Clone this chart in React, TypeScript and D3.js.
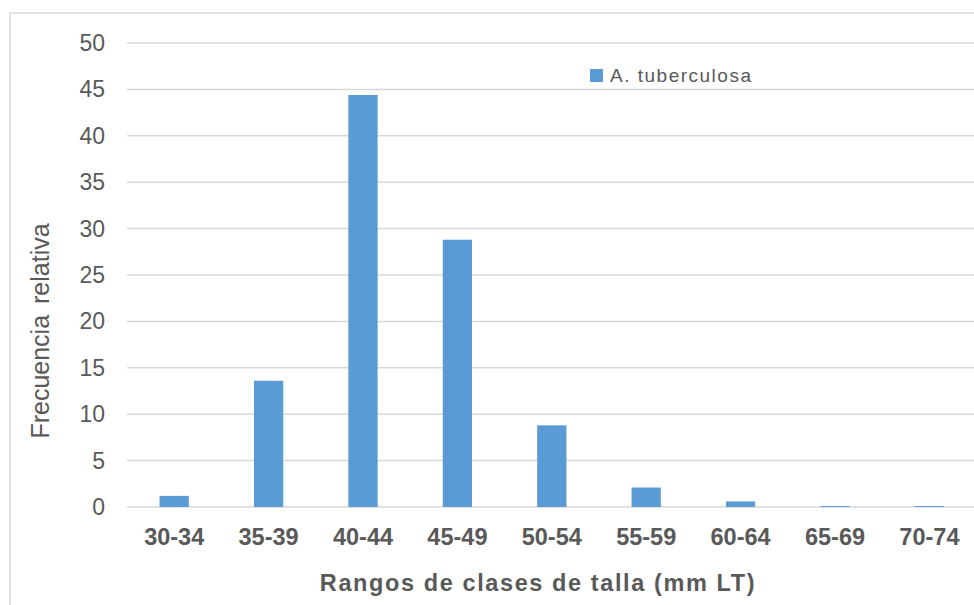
import { useRef, useEffect } from 'react'
import * as d3 from 'd3'

const WIDTH = 974
const HEIGHT = 605

const sizeClasses = ['30-34', '35-39', '40-44', '45-49', '50-54', '55-59', '60-64', '65-69', '70-74']
const frequencies = [1.2, 13.6, 44.4, 28.8, 8.8, 2.1, 0.6, 0.1, 0.1]
const yTicks = [0, 5, 10, 15, 20, 25, 30, 35, 40, 45, 50]
const seriesName = 'A. tuberculosa'

const BAR_COLOR = '#5b9bd5'
const GRID_COLOR = '#d9d9d9'
const TEXT_COLOR = '#595959'
const FONT = '"Liberation Sans", Arial, sans-serif'

export default function App() {
  const svgRef = useRef<SVGSVGElement>(null)

  useEffect(() => {
    if (!svgRef.current) return
    const svg = d3.select(svgRef.current)
    svg.selectAll('*').remove()

    const margin = { top: 43, left: 127, bottom: 98 }
    const plotRight = 976.6
    const plotBottom = HEIGHT - margin.bottom

    const x = d3
      .scaleBand<string>()
      .domain(sizeClasses)
      .range([margin.left, plotRight])
      .paddingInner(0.69)
      .paddingOuter(0.345)

    const y = d3.scaleLinear().domain([0, 50]).range([plotBottom, margin.top])

    // chart frame
    svg
      .append('rect')
      .attr('x', 10)
      .attr('y', 13)
      .attr('width', WIDTH + 20)
      .attr('height', HEIGHT + 20)
      .attr('fill', '#fff')
      .attr('stroke', GRID_COLOR)
      .attr('stroke-width', 1.5)

    // gridlines
    svg
      .append('g')
      .selectAll('line')
      .data(yTicks)
      .enter()
      .append('line')
      .attr('x1', margin.left)
      .attr('x2', WIDTH)
      .attr('y1', (d) => y(d))
      .attr('y2', (d) => y(d))
      .attr('stroke', GRID_COLOR)
      .attr('stroke-width', 1.5)

    // y tick labels
    svg
      .append('g')
      .selectAll('text')
      .data(yTicks)
      .enter()
      .append('text')
      .attr('x', 105)
      .attr('y', (d) => y(d) + 8)
      .attr('text-anchor', 'end')
      .attr('font-family', FONT)
      .attr('font-size', 23)
      .attr('fill', TEXT_COLOR)
      .text((d) => d)

    // bars
    svg
      .append('g')
      .selectAll('rect')
      .data(frequencies)
      .enter()
      .append('rect')
      .attr('x', (_, i) => x(sizeClasses[i]) ?? 0)
      .attr('y', (d) => y(d))
      .attr('width', x.bandwidth())
      .attr('height', (d) => plotBottom - y(d))
      .attr('fill', BAR_COLOR)

    // x tick labels
    svg
      .append('g')
      .selectAll('text')
      .data(sizeClasses)
      .enter()
      .append('text')
      .attr('x', (d) => (x(d) ?? 0) + x.bandwidth() / 2)
      .attr('y', 545)
      .attr('text-anchor', 'middle')
      .attr('font-family', FONT)
      .attr('font-weight', 'bold')
      .attr('font-size', 23.5)
      .attr('fill', TEXT_COLOR)
      .text((d) => d)

    // axis titles
    svg
      .append('text')
      .attr('x', 538)
      .attr('y', 591)
      .attr('text-anchor', 'middle')
      .attr('font-family', FONT)
      .attr('font-weight', 'bold')
      .attr('font-size', 23.5)
      .attr('letter-spacing', 1.6)
      .attr('fill', TEXT_COLOR)
      .text('Rangos de clases de talla (mm LT)')

    svg
      .append('text')
      .attr('transform', 'translate(49,331) rotate(-90)')
      .attr('text-anchor', 'middle')
      .attr('font-family', FONT)
      .attr('font-size', 25)
      .attr('word-spacing', 4)
      .attr('fill', TEXT_COLOR)
      .text('Frecuencia relativa')

    // legend
    const legend = svg.append('g')
    legend
      .append('rect')
      .attr('x', 590)
      .attr('y', 69)
      .attr('width', 13)
      .attr('height', 13)
      .attr('fill', BAR_COLOR)
    legend
      .append('text')
      .attr('x', 610)
      .attr('y', 82)
      .attr('font-family', FONT)
      .attr('font-size', 19)
      .attr('letter-spacing', 1.5)
      .attr('fill', TEXT_COLOR)
      .text(seriesName)
  }, [])

  return (
    <div style={{ position: 'absolute', left: 0, top: 0 }}>
      <svg ref={svgRef} width={WIDTH} height={HEIGHT} style={{ display: 'block' }} />
    </div>
  )
}
